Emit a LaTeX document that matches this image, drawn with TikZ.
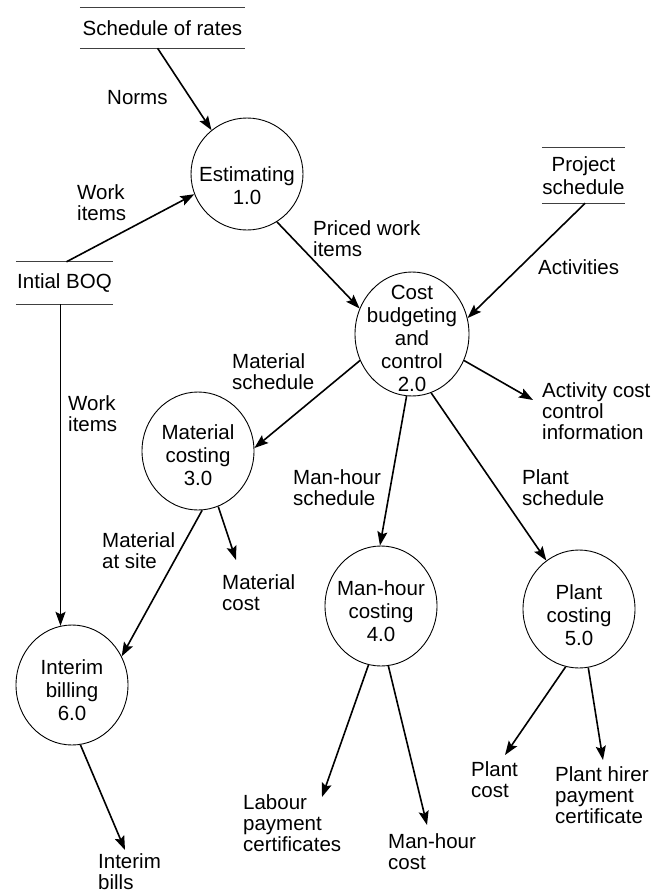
\documentclass[tikz,border=0pt]{standalone}
\usepackage{fontspec}
\setmainfont{Liberation Sans}
\usetikzlibrary{shapes.geometric,arrows.meta,calc}
\begin{document}
\begin{tikzpicture}[x=1pt,y=-1pt,
  proc/.style={draw,ellipse,inner sep=0pt,line width=0.9pt},
  ptext/.style={align=center,inner sep=0pt,font=\fontsize{20.5}{23}\selectfont},
  lbl/.style={align=left,inner sep=0pt,anchor=west,font=\fontsize{20.5}{21}\selectfont},
  store/.style={align=center,inner sep=0pt,font=\fontsize{20.5}{23}\selectfont},
  storeline/.style={line width=0.8pt,black!75},
  flow/.style={line width=1.6pt,-{Stealth[length=14pt,width=10pt,inset=2.5pt]}}]
\useasboundingbox (0,0) rectangle (655,894);

% data stores
\node[store,minimum width=165,minimum height=40] (sr) at (162.5,28) {Schedule of rates};
\node[store,minimum width=97,minimum height=42] (boq) at (64.5,283) {Intial BOQ};
\node[store,minimum width=83,minimum height=55] (ps) at (583.5,175.5) {Project\\schedule};
\foreach \s in {sr,boq,ps}{
  \draw[storeline] (\s.north west) -- (\s.north east) (\s.south west) -- (\s.south east);
}

% processes
\node[proc,minimum width=112,minimum height=112] (est) at (247,174) {};
\node[ptext] (estt) at (247,186) {Estimating\\1.0};
\node[proc,minimum width=114,minimum height=124] (cost) at (412,334) {};
\node[ptext] (costt) at (412,338) {Cost\\budgeting\\and\\control\\2.0};
\node[proc,minimum width=112,minimum height=118] (mat) at (198,451) {};
\node[ptext] (matt) at (198,455) {Material\\costing\\3.0};
\node[proc,minimum width=112,minimum height=120] (inter) at (72,685) {};
\node[ptext] (intert) at (72,690) {Interim\\billing\\6.0};
\node[proc,minimum width=112,minimum height=120] (mh) at (381,606) {};
\node[ptext] (mht) at (381,611) {Man-hour\\costing\\4.0};
\node[proc,minimum width=112,minimum height=118] (pl) at (579,609) {};
\node[ptext] (plt) at (579,615) {Plant\\costing\\5.0};

% free ends
\coordinate (acte) at (533,400);
\coordinate (mce) at (236,560);
\coordinate (ibe) at (125,850);
\coordinate (lpe) at (322,797);
\coordinate (mhce) at (427,825);
\coordinate (pce) at (505,755);
\coordinate (phe) at (603,760);

% flows
\draw[flow] ($(sr.south west)!0.47!(sr.south east)$) -- (est.129);
\draw[flow] ($(boq.north west)!0.52!(boq.north east)$) -- (est.201);
\draw[flow] (est.-58) -- (cost.154);
\draw[flow] ($(ps.south west)!0.52!(ps.south east)$) -- (cost.16);
\draw[flow] (cost.-27) -- (acte);
\draw[flow] (cost.207) -- (mat.3);
\draw[flow] (cost.-95) -- (mh.91);
\draw[flow] (cost.-72) -- (pl.124);
\draw[flow] (mat.-70) -- (mce);
\draw[flow] (mat.-86) -- (inter.30);
\draw[flow] (inter.101 |- boq.south) -- (inter.101);
\draw[flow] (inter.-82) -- (ibe);
\draw[flow] (mh.-102) -- (lpe);
\draw[flow] (mh.-83) -- (mhce);
\draw[flow] (pl.-103) -- (pce);
\draw[flow] (pl.-81) -- (phe);

% labels
\node[lbl] (l1) at (107,98) {Norms};
\node[lbl] (l2) at (77,203) {Work\\items};
\node[lbl] (l3) at (313,239) {Priced work\\items};
\node[lbl] (l4) at (538,267) {Activities};
\node[lbl] (l5) at (542,411) {Activity cost\\control\\information};
\node[lbl] (l6) at (232,372) {Material\\schedule};
\node[lbl] (l7) at (68,414) {Work\\items};
\node[lbl] (l8) at (293,488) {Man-hour\\schedule};
\node[lbl] (l9) at (522,488) {Plant\\schedule};
\node[lbl] (l10) at (102,551) {Material\\at site};
\node[lbl] (l11) at (222,593) {Material\\cost};
\node[lbl] (l12) at (243,823) {Labour\\payment\\certificates};
\node[lbl] (l13) at (388,852) {Man-hour\\cost};
\node[lbl] (l14) at (471,780) {Plant\\cost};
\node[lbl] (l15) at (555,795) {Plant hirer\\payment\\certificate};
\node[lbl] (l16) at (98,872) {Interim\\bills};
\end{tikzpicture}
\end{document}
